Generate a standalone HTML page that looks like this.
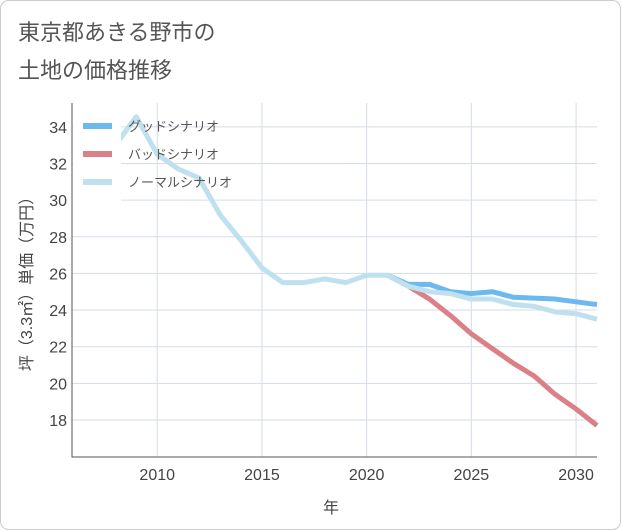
<!DOCTYPE html>
<html><head><meta charset="utf-8"><style>
body{margin:0;background:#fff;}
svg{display:block;font-family:"Liberation Sans","Noto Sans CJK JP",sans-serif;}
</style></head><body>
<svg id="chart" width="621" height="530">
<rect x="0.5" y="0.5" width="620" height="529" rx="8" fill="#fff" stroke="#ccc"/>
<text x="18" y="40" font-size="22" fill="#555">東京都あきる野市の</text>
<text x="18" y="78" font-size="22" fill="#555">土地の価格推移</text>
<g id="grid"></g>
<g id="series"></g>
<g id="axes"></g>
<text x="331" y="513" font-size="16" fill="#444" text-anchor="middle">年</text>
<text transform="translate(32,280) rotate(-90)" font-size="16" fill="#444" text-anchor="middle">坪（3.3㎡）単価（万円）</text>
</svg>
<script>
const years=[2008,2009,2010,2011,2012,2013,2014,2015,2016,2017,2018,2019,2020,2021,2022,2023,2024,2025,2026,2027,2028,2029,2030,2031];
const normalVals=[33.0,34.55,32.5,31.7,31.2,29.2,27.8,26.3,25.5,25.5,25.7,25.5,25.9,25.9,25.3,25.0,24.9,24.6,24.6,24.3,24.2,23.9,23.8,23.5];
const futureYears=[2021,2022,2023,2024,2025,2026,2027,2028,2029,2030,2031];
const goodVals=[25.9,25.4,25.4,25.0,24.9,25.0,24.7,24.65,24.6,24.45,24.3];
const badVals=[25.9,25.3,24.6,23.7,22.7,21.9,21.1,20.4,19.4,18.6,17.7];
const xTicks=[2010,2015,2020,2025,2030];
const yTicks=[18,20,22,24,26,28,30,32,34];
const legendLabels=["グッドシナリオ","バッドシナリオ","ノーマルシナリオ"];

const L=72,R=597,T=103,B=457,x0=2005.93,x1=2031,y0=15.98,y1=35.3;
const sx=v=>L+(v-x0)/(x1-x0)*(R-L);
const sy=v=>B-(v-y0)/(y1-y0)*(B-T);
const NS="http://www.w3.org/2000/svg";
function mk(tag,attrs,parent){const e=document.createElementNS(NS,tag);for(const k in attrs)e.setAttribute(k,attrs[k]);parent.appendChild(e);return e;}
const grid=document.getElementById('grid'),series=document.getElementById('series'),axes=document.getElementById('axes');
xTicks.forEach(t=>{
 const l=mk('line',{x1:sx(t),x2:sx(t),y1:T,y2:B,stroke:'#d5dde8','stroke-width':1},grid);
 
 
 const tx=mk('text',{x:sx(t),y:B+23,'font-size':16,fill:'#444','text-anchor':'middle'},axes);
 tx.textContent=t;
 
 
});
yTicks.forEach(t=>{
 const l=mk('line',{x1:L,x2:R,y1:sy(t),y2:sy(t),stroke:'#d5dde8','stroke-width':1},grid);
 
 
 const tx=mk('text',{x:L-5,y:sy(t)+6,'font-size':16,fill:'#444','text-anchor':'end'},axes);
 tx.textContent=t;
 
 
});
const ax=mk('polyline',{points:`${L},${T} ${L},${B} ${R},${B}`,fill:'none',stroke:'#555','stroke-width':1},axes);


function line(xs,ys,color,name){
 const p=mk('polyline',{points:xs.map((x,i)=>sx(x)+','+sy(ys[i])).join(' '),fill:'none',stroke:color,'stroke-width':5,'stroke-linejoin':'round'},series);
 
 
}
line(futureYears,goodVals,'#6cb8f0','good-scenario-line');
line(futureYears,badVals,'#dc8088','bad-scenario-line');
line(years,normalVals,'#bfe0ee','normal-scenario-line');
const bg=mk('rect',{x:L+1,y:T+2,width:48,height:100,fill:'#fff'},series);


const lc=['#6cb8f0','#dc8088','#bfe0ee'];
legendLabels.forEach((s,i)=>{
 const y=126+i*28;
 const g=mk('g',{},series);
 
 
 mk('line',{x1:83,x2:112,y1:y,y2:y,stroke:lc[i],'stroke-width':6},g);
 const tx=mk('text',{x:128,y:y+5,'font-size':13,fill:'#555'},g);
 tx.textContent=s;
});
</script>
</body></html>
